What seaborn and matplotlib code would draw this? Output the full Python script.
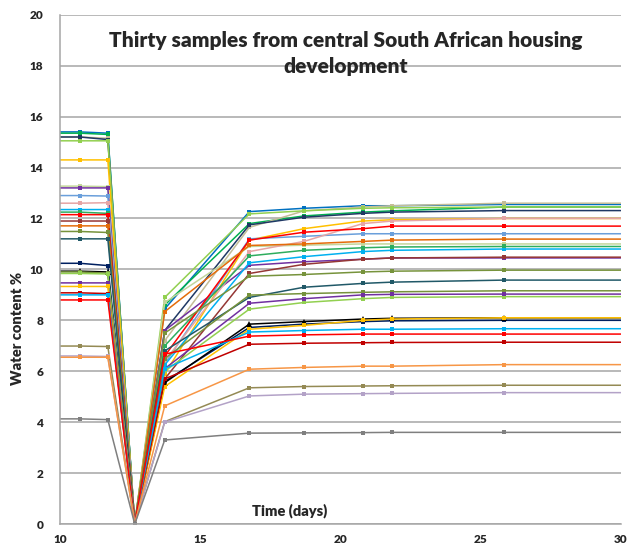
import numpy as np
import pandas as pd
import seaborn as sns
import matplotlib.pyplot as plt
import matplotlib.ticker as ticker

##### Data

days = [10, 10.7, 11.7, 12.66, 13.73, 16.75, 18.7, 20.8, 21.85, 25.85, 30]

# values at 10.7, 11.7, (12.66 = 0), 13.73, 16.75, 18.7, 20.8, 21.85, 25.85
s01 = [15.4, 15.35, 0, 8.45, 12.27, 12.4, 12.5, 12.5, 12.55]
s02 = [15.35, 15.3, 0, 8.6, 11.8, 12.1, 12.25, 12.3, 12.45]
s03 = [15.2, 15.15, 0, 7.2, 11.65, 12.3, 12.45, 12.5, 12.6]
s04 = [15.2, 15.1, 0, 7.6, 11.75, 12.05, 12.2, 12.25, 12.31]
s05 = [15.05, 15.05, 0, 8.9, 12.18, 12.3, 12.4, 12.42, 12.45]
s06 = [14.3, 14.3, 0, 5.9, 11.15, 11.6, 11.9, 11.95, 12.0]
s07 = [13.27, 13.25, 0, 8.7, 10.9, 10.95, 11.0, 11.0, 11.0]
s08 = [13.2, 13.2, 0, 7.6, 10.16, 10.3, 10.4, 10.45, 10.45]
s09 = [12.9, 12.88, 0, 6.3, 11.2, 11.3, 11.4, 11.4, 11.4]
s10 = [12.6, 12.62, 0, 6.4, 10.7, 11.1, 11.8, 11.9, 12.0]
s11 = [12.35, 12.35, 0, 6.25, 10.26, 10.5, 10.7, 10.75, 10.8]
s12 = [12.25, 12.2, 0, 7.0, 10.53, 10.75, 10.85, 10.88, 10.9]
s13 = [12.15, 12.15, 0, 6.6, 11.15, 11.46, 11.6, 11.7, 11.7]
s14 = [11.9, 11.9, 0, 5.7, 9.84, 10.2, 10.4, 10.45, 10.48]
s15 = [11.71, 11.71, 0, 8.34, 10.94, 11.0, 11.1, 11.15, 11.19]
s16 = [11.49, 11.45, 0, 7.5, 9.73, 9.8, 9.9, 9.93, 9.97]
s17 = [11.2, 11.2, 0, 6.8, 8.9, 9.3, 9.45, 9.5, 9.58]
s18 = [10.24, 10.15, 0, 5.6, 7.72, 7.85, 7.95, 7.98, 8.0]
s19 = [9.93, 9.9, 0, 5.55, 7.85, 7.95, 8.05, 8.08, 8.1]
s20 = [9.9, 9.85, 0, 6.5, 8.99, 9.05, 9.1, 9.12, 9.16]
s21 = [9.84, 9.82, 0, 6.0, 8.44, 8.7, 8.85, 8.9, 8.93]
s22 = [9.47, 9.47, 0, 6.1, 8.67, 8.85, 9.0, 9.02, 9.03]
s23 = [9.33, 9.33, 0, 5.4, 7.65, 7.8, 8.0, 8.05, 8.1]
s24 = [9.08, 9.05, 0, 5.7, 7.06, 7.1, 7.12, 7.13, 7.14]
s25 = [9.0, 9.0, 0, 6.1, 7.54, 7.6, 7.65, 7.65, 7.67]
s26 = [8.8, 8.8, 0, 6.67, 7.38, 7.43, 7.46, 7.46, 7.46]
s27 = [6.99, 6.97, 0, 4.02, 5.35, 5.4, 5.42, 5.43, 5.45]
s28 = [6.6, 6.58, 0, 4.0, 5.03, 5.1, 5.12, 5.13, 5.16]
s29 = [6.55, 6.55, 0, 4.64, 6.08, 6.15, 6.2, 6.2, 6.26]
s30 = [4.13, 4.1, 0, 3.3, 3.57, 3.58, 3.59, 3.6, 3.6]

samples = [s01, s02, s03, s04, s05, s06, s07, s08, s09, s10,
           s11, s12, s13, s14, s15, s16, s17, s18, s19, s20,
           s21, s22, s23, s24, s25, s26, s27, s28, s29, s30]

colours = ['#0070C0', '#00B050', '#C4BD97', '#1F3864', '#92D050',
           '#FFC000', '#C3D69B', '#7030A0', '#6A9FDB', '#E6A5A5',
           '#00B0F0', '#2EAD5E', '#FF0000', '#953735', '#E46C0A',
           '#77933C', '#215968', '#002060', '#000000', '#76923C',
           '#92D050', '#7030A0', '#FFC000', '#C00000', '#00B0F0',
           '#FF0000', '#948A54', '#B3A2C7', '#F79646', '#7F7F7F']

names = ['S%02d' % (i + 1) for i in range(len(samples))]

##### Long format (first value repeated at day 10, last at day 30 - lines run off the axes)

rows = []
for name, vals in zip(names, samples):
    full = [vals[0]] + vals + [vals[-1]]
    for d, v in zip(days, full):
        rows.append({'Day': d, 'Water': v, 'Sample': name})
df = pd.DataFrame(rows)

##### Plot

sns.set_style('white')
plt.rcParams['font.family'] = ['Lato', 'DejaVu Sans']

fig = plt.figure(figsize=(6.4, 5.47), dpi=100)
ax = fig.add_axes([0.094, 0.042, 0.876, 0.931])

sns.lineplot(data=df, x='Day', y='Water', hue='Sample', hue_order=names,
             palette=colours, sort=False, estimator=None, legend=False,
             linewidth=1.1, marker='s', markersize=3.0, markeredgewidth=0,
             markevery=slice(1, -1), ax=ax)

# black sample uses triangles
ax.lines[names.index('S19')].set_marker('^')
ax.lines[names.index('S19')].set_markersize(4)

ax.set_xlim(10, 30)
ax.set_ylim(0, 20)
ax.xaxis.set_major_locator(ticker.MultipleLocator(5))
ax.yaxis.set_major_locator(ticker.MultipleLocator(2))
ax.yaxis.grid(True, color='#A6A6A6', linewidth=1.1)
ax.set_axisbelow(True)

for side in ['top', 'right']:
    ax.spines[side].set_visible(False)
for side in ['left', 'bottom']:
    ax.spines[side].set_color('#A6A6A6')
    ax.spines[side].set_linewidth(1.1)

ax.tick_params(axis='x', direction='out', length=4, color='#A6A6A6',
               labelsize=8.5, pad=3)
ax.tick_params(axis='y', length=0, labelsize=8.5, pad=12)
for lab in ax.get_xticklabels() + ax.get_yticklabels():
    lab.set_fontweight('heavy')

ax.set_xlabel('')
ax.set_ylabel('Water content %', fontsize=10.5, fontweight='heavy', labelpad=4)
ax.yaxis.set_label_coords(-0.065, 0.385)
ax.text(0.41, 0.012, 'Time (days)', transform=ax.transAxes, ha='center',
        va='bottom', fontsize=10.5, fontweight='heavy')
ax.text(0.51, 0.968, 'Thirty samples from central South African housing\ndevelopment',
        transform=ax.transAxes, ha='center', va='top', fontsize=15,
        fontweight='heavy', linespacing=1.45)

plt.savefig('out.png', dpi=100)
